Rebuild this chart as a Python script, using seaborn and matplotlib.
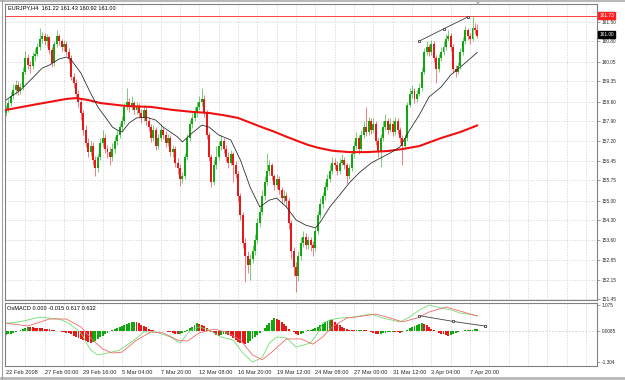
import numpy as np
import matplotlib
matplotlib.use('Agg')
import matplotlib.pyplot as plt
import matplotlib.transforms as mtransforms
import seaborn as sns

# ---------------- data (EURJPY, H4) ----------------
first_open = 158.20

closes = [
    158.35, 158.55, 158.80, 159.05, 159.20, 159.00, 159.15, 159.70,
    160.20, 159.95, 159.90, 160.25, 160.35, 160.60, 160.90, 161.00,
    160.80, 160.95, 160.50, 160.00, 160.70, 161.00, 160.80, 160.60,
    160.70, 160.40, 160.20, 159.50, 159.30, 158.90, 158.60, 158.20,
    157.60, 157.10, 156.80, 157.00, 156.50, 156.20, 156.60, 157.10,
    157.30, 156.90, 156.80, 156.60, 156.90, 157.20, 157.40, 157.70,
    157.90, 158.40, 158.60, 158.40, 158.55, 158.30, 158.45, 158.20,
    158.00, 158.30, 157.90, 157.70, 157.30, 157.60, 157.00, 157.30,
    157.60, 157.40, 157.10, 157.30, 156.80, 156.90, 156.40, 156.20,
    155.80, 155.90, 156.60, 157.30, 157.80, 158.00, 158.20, 158.40,
    158.60, 158.70, 158.20, 157.40, 156.60, 155.70, 156.30, 156.60,
    157.00, 157.20, 156.90, 156.60, 156.40, 156.70, 156.30, 156.00,
    155.20, 154.50, 153.50, 153.00, 152.70, 152.90, 153.20, 153.60,
    154.20, 154.60, 155.20, 155.70, 156.10, 156.30, 155.90, 155.60,
    155.80, 155.40, 155.10, 155.20, 155.00, 154.20, 153.20, 152.60,
    152.30, 153.00, 153.50, 153.70, 153.40, 153.60, 153.40, 153.30,
    153.90, 154.50, 154.90, 155.20, 155.50, 155.80, 156.10, 156.40,
    156.30, 156.10, 156.40, 156.50, 156.30, 155.90, 156.20, 156.70,
    157.00, 157.30, 156.90, 157.40, 157.70, 157.50, 157.90, 157.60,
    157.80, 157.20, 156.80, 157.30, 157.70, 157.90, 157.60, 157.80,
    157.50, 157.90, 157.60, 157.30, 157.00, 157.30, 158.50, 158.90,
    159.00, 158.70, 158.90, 159.10, 159.70, 160.40, 160.60, 160.40,
    160.70, 160.20, 159.80, 160.20, 160.40, 160.60, 160.90, 161.00,
    160.60, 159.80, 159.70, 159.90, 160.40, 160.80, 161.20, 161.00,
    160.90, 161.30, 161.22, 161.00,
]

highs = [
    158.50, 158.70, 158.95, 159.25, 159.40, 159.35, 159.30, 159.85,
    160.45, 160.35, 160.10, 160.40, 160.55, 160.75, 161.30, 161.15,
    161.10, 161.05, 161.00, 160.60, 160.80, 161.20, 161.05, 160.90,
    160.85, 160.80, 160.55, 160.30, 159.65, 159.45, 159.05, 158.75,
    158.30, 157.75, 157.30, 157.20, 157.15, 156.65, 156.75, 157.30,
    157.60, 157.45, 157.05, 156.95, 157.10, 157.35, 157.60, 157.85,
    158.10, 158.55, 159.10, 158.75, 158.80, 158.65, 158.60, 158.55,
    158.35, 158.50, 158.40, 158.05, 157.80, 157.75, 157.70, 157.45,
    157.80, 157.70, 157.55, 157.45, 157.40, 157.05, 157.00, 156.55,
    156.35, 156.05, 156.75, 157.45, 157.95, 158.20, 158.40, 158.60,
    158.80, 159.10, 158.85, 158.30, 157.50, 156.70, 156.50, 157.00,
    157.20, 157.40, 157.30, 157.05, 156.80, 156.85, 156.80, 156.45,
    156.10, 155.30, 154.60, 153.65, 153.20, 153.10, 153.40, 153.80,
    154.40, 154.80, 155.40, 155.90, 156.75, 156.50, 156.40, 156.00,
    156.00, 155.90, 155.50, 155.40, 155.35, 155.10, 154.30, 153.35,
    152.80, 153.20, 153.70, 153.90, 153.85, 153.75, 153.70, 153.55,
    154.05, 154.65, 155.10, 155.35, 155.70, 156.00, 156.30, 156.60,
    156.55, 156.45, 156.55, 156.70, 156.60, 156.40, 156.35, 156.85,
    157.20, 157.50, 157.40, 157.60, 157.90, 158.40, 158.05, 158.00,
    158.00, 157.90, 157.30, 157.45, 157.90, 158.15, 158.00, 158.00,
    157.95, 158.05, 158.00, 157.70, 157.40, 157.45, 158.60, 159.10,
    159.20, 159.10, 159.05, 159.30, 159.85, 160.55, 160.80, 160.70,
    160.85, 160.80, 160.30, 160.35, 160.60, 160.80, 161.05, 161.20,
    161.10, 160.70, 159.95, 160.05, 160.55, 160.95, 161.35, 161.30,
    161.10, 161.73, 161.45, 161.43,
]

lows = [
    158.10, 158.25, 158.45, 158.70, 158.90, 158.85, 158.90, 159.05,
    159.60, 159.80, 159.65, 159.80, 160.10, 160.25, 160.50, 160.75,
    160.65, 160.60, 160.35, 159.85, 159.90, 160.60, 160.65, 160.45,
    160.45, 160.30, 160.00, 159.40, 159.10, 158.75, 158.40, 157.95,
    157.40, 156.95, 156.60, 156.65, 156.30, 155.90, 156.05, 156.50,
    156.95, 156.75, 156.55, 156.30, 156.45, 156.75, 157.05, 157.30,
    157.55, 157.80, 158.30, 158.25, 158.30, 158.15, 158.15, 158.05,
    157.85, 157.90, 157.75, 157.55, 157.15, 157.20, 156.85, 156.90,
    157.20, 157.25, 156.95, 157.00, 156.65, 156.60, 156.25, 156.00,
    155.55, 155.65, 155.80, 156.50, 157.20, 157.65, 157.90, 158.05,
    158.30, 158.45, 158.05, 157.25, 156.45, 155.50, 155.60, 156.15,
    156.50, 156.85, 156.75, 156.45, 156.20, 156.30, 155.70, 155.85,
    155.00, 154.30, 153.30, 152.05, 152.40, 152.15, 152.75, 153.05,
    153.50, 154.05, 154.50, 155.05, 155.60, 155.95, 155.75, 155.40,
    155.45, 155.25, 154.90, 154.95, 154.80, 154.00, 152.90, 152.30,
    151.70, 152.10, 152.85, 153.35, 153.25, 153.25, 153.20, 153.00,
    153.20, 153.80, 154.40, 154.75, 155.05, 155.40, 155.70, 156.00,
    156.15, 155.95, 156.00, 156.30, 156.15, 155.65, 155.80, 156.10,
    156.55, 156.90, 156.70, 156.80, 157.30, 157.35, 157.40, 157.45,
    157.50, 157.05, 156.60, 156.25, 157.20, 157.60, 157.45, 157.50,
    157.35, 157.40, 157.45, 157.10, 156.30, 156.90, 157.20, 158.40,
    158.75, 158.55, 158.60, 158.80, 159.00, 159.60, 160.30, 160.25,
    160.30, 160.05, 159.30, 159.70, 160.10, 160.30, 160.50, 160.80,
    160.45, 159.65, 159.50, 159.60, 159.80, 160.30, 160.70, 160.85,
    160.70, 160.80, 161.05, 160.92,
]

# moving averages (bar index, price)
ma_fast_bar = [0, 6, 11, 15, 18, 22, 25, 27, 31, 35, 38, 42, 44, 46, 48, 51, 54, 58, 62, 65,
               71, 73, 77, 81, 84, 88, 93, 97, 101, 105, 109, 112, 116, 120, 124, 128, 130,
               134, 138, 142, 146, 151, 155, 159, 163, 167, 171, 175, 180, 184, 189, 195]
ma_fast_val = [158.67, 159.03, 159.47, 159.83, 159.94, 160.16, 160.23, 160.12, 159.65, 158.92,
               158.42, 157.94, 157.69, 157.58, 157.51, 157.84, 158.02, 158.05, 157.94, 157.69,
               157.33, 157.15, 157.47, 157.76, 157.69, 157.40, 157.22, 156.49, 155.51, 154.79,
               155.04, 155.11, 154.79, 154.32, 154.13, 154.03, 154.24, 154.79, 155.22, 155.66,
               156.02, 156.38, 156.57, 156.75, 156.97, 157.58, 158.13, 158.78, 159.14, 159.58,
               159.94, 160.40]

ma_slow_bar = [0, 11, 18, 25, 29, 34, 39, 50, 60, 69, 77, 84, 90, 96, 101, 106, 111, 116,
               121, 125, 129, 135, 142, 149, 158, 164, 171, 180, 188, 195]
ma_slow_val = [158.31, 158.49, 158.60, 158.71, 158.74, 158.67, 158.56, 158.45, 158.42, 158.31,
               158.24, 158.20, 158.12, 158.02, 157.85, 157.68, 157.52, 157.34, 157.17, 157.04,
               156.94, 156.83, 156.78, 156.78, 156.82, 156.89, 157.00, 157.29, 157.51, 157.75]

# trend line over the highs
trend_bar = [171, 181, 191]
trend_val = [160.81, 161.25, 161.68]
level_line = 161.73

# OsMACD histogram, one value per bar
osma = [
    -0.16, -0.14, -0.11, -0.07, -0.03, 0.02, 0.06, 0.10,
    0.14, 0.17, 0.16, 0.15, 0.14, 0.13, 0.12, 0.11,
    0.10, 0.09, 0.08, 0.06, 0.04, 0.02, -0.01, -0.03,
    -0.05, -0.07, -0.10, -0.14, -0.19, -0.24, -0.29, -0.34,
    -0.39, -0.43, -0.46, -0.48, -0.45, -0.40, -0.34, -0.27,
    -0.20, -0.13, -0.07, -0.02, 0.03, 0.07, 0.12, 0.17,
    0.22, 0.27, 0.31, 0.35, 0.38, 0.39, 0.36, 0.32,
    0.27, 0.21, 0.15, 0.10, 0.06, 0.03, 0.02, 0.01,
    0.00, -0.01, -0.02, -0.03, -0.06, -0.09, -0.12, -0.14,
    -0.12, -0.08, -0.03, 0.04, 0.11, 0.18, 0.25, 0.33,
    0.30, 0.25, 0.19, 0.12, 0.05, -0.03, -0.10, -0.16,
    -0.19, -0.17, -0.14, -0.13, -0.16, -0.22, -0.30, -0.38,
    -0.45, -0.50, -0.52, -0.53, -0.48, -0.40, -0.32, -0.24,
    -0.15, -0.07, 0.02, 0.12, 0.23, 0.34, 0.46, 0.56,
    0.52, 0.45, 0.37, 0.28, 0.19, 0.10, 0.02, -0.06,
    -0.12, -0.15, -0.12, -0.07, -0.02, 0.03, 0.06, 0.08,
    0.12, 0.17, 0.23, 0.30, 0.36, 0.42, 0.46, 0.44,
    0.38, 0.31, 0.24, 0.17, 0.11, 0.07, 0.05, 0.04,
    0.03, 0.04, 0.05, 0.06, 0.04, 0.03, 0.00, -0.05,
    -0.09, -0.12, -0.13, -0.11, -0.09, -0.07, -0.05, -0.04,
    -0.03, -0.05, -0.06, -0.07, -0.05, -0.01, 0.05, 0.11,
    0.17, 0.22, 0.27, 0.31, 0.33, 0.30, 0.24, 0.17,
    0.10, 0.04, -0.02, -0.07, -0.11, -0.14, -0.17, -0.19,
    -0.16, -0.12, -0.08, -0.05, -0.02, 0.01, 0.03, 0.04,
    0.05, 0.06, 0.07, 0.075,
]

macd_bar = [0, 6, 14, 22, 26, 31, 35, 38, 42, 47, 53, 57, 62, 68, 72, 76, 80, 84, 89, 94, 98,
            102, 106, 109, 112, 116, 120, 126, 129, 131, 134, 138, 144, 151, 156, 163, 167,
            171, 175, 180, 184, 188, 193, 195]
macd_val = [0.32, 0.39, 0.58, 0.50, 0.33, -0.08, -0.79, -1.00, -0.92, -0.80, -0.38, -0.04,
            -0.04, -0.25, -0.50, 0.00, 0.17, 0.04, -0.25, -0.38, -0.92, -1.30, -1.10, -0.50,
            -0.25, -0.29, -0.67, -0.50, -0.08, 0.33, 0.46, 0.54, 0.58, 0.71, 0.54, 0.38, 0.58,
            0.88, 1.08, 0.96, 0.88, 0.75, 0.68, 0.62]
sig_bar = [0, 9, 18, 25, 31, 36, 40, 44, 48, 54, 60, 65, 71, 75, 80, 86, 91, 97, 102, 106,
           110, 116, 122, 127, 131, 135, 141, 148, 153, 159, 164, 170, 175, 182, 188, 193, 195]
sig_val = [0.33, 0.21, 0.50, 0.50, 0.17, -0.38, -0.75, -0.92, -0.88, -0.38, -0.04, -0.08,
           -0.38, -0.42, -0.08, 0.08, -0.04, -0.38, -1.00, -1.20, -0.88, -0.33, -0.33, -0.55,
           -0.25, 0.17, 0.54, 0.63, 0.71, 0.54, 0.38, 0.54, 0.79, 1.00, 0.83, 0.68, 0.63]
macd_trend_bar = [171, 185, 198]
macd_trend_val = [0.64, 0.40, 0.21]

price_ticks = [161.50, 160.80, 160.05, 159.35, 158.60, 157.90, 157.20, 156.45,
               155.75, 155.00, 154.30, 153.60, 152.85, 152.15, 151.45]
macd_ticks = [1.075, 0.0085, -1.304]
macd_tick_labels = ['1.075', '0.0085', '-1.304']
date_pos = [0, 16, 32, 48, 64, 80, 96, 112, 128, 144, 160, 176, 192]
date_labels = ['22 Feb 2008', '27 Feb 00:00', '29 Feb 16:00', '5 Mar 04:00', '7 Mar 20:00',
               '12 Mar 08:00', '16 Mar 20:00', '19 Mar 12:00', '24 Mar 08:00', '27 Mar 00:00',
               '31 Mar 12:00', '3 Apr 04:00', '7 Apr 20:00']

# ---------------- styling ----------------
sns.set_style('white')
plt.rcParams['font.family'] = ['Liberation Sans', 'DejaVu Sans']

green = '#0fa80f'
red = '#e81818'
grid_c = '#d6cccc'
frame_c = '#808080'

c = np.array(closes)
o = np.r_[first_open, c[:-1]]
h = np.maximum(np.array(highs), np.maximum(o, c))
l = np.minimum(np.array(lows), np.minimum(o, c))
idx = np.arange(len(c))
up = c >= o
cols = np.where(up, green, red)

fig = plt.figure(figsize=(6.25, 3.8), dpi=100)
ax = fig.add_axes([5 / 625, 1 - 300 / 380, 592 / 625, 296 / 380])
axm = fig.add_axes([5 / 625, 1 - 366 / 380, 592 / 625, 63 / 380], sharex=ax)

# grid
for gx in range(8, 245, 8):
    ax.axvline(gx, color=grid_c, lw=0.5, ls=(0, (2, 2)), zorder=0)
    axm.axvline(gx, color=grid_c, lw=0.5, ls=(0, (2, 2)), zorder=0)
for p in price_ticks:
    ax.axhline(p, color=grid_c, lw=0.5, ls=(0, (2, 2)), zorder=0)
axm.axhline(0, color=grid_c, lw=0.6, ls=(0, (2, 2)), zorder=0)

# candles
ax.vlines(idx, l, h, colors=cols, lw=0.6, alpha=0.65, zorder=2)
ax.bar(idx, np.maximum(np.abs(c - o), 0.03), bottom=np.minimum(o, c),
       width=0.82, color=cols, linewidth=0, zorder=3)

# moving averages
sns.lineplot(x=ma_slow_bar, y=ma_slow_val, ax=ax, color='#f01010', linewidth=1.5, zorder=4)
sns.lineplot(x=ma_fast_bar, y=ma_fast_val, ax=ax, color='#303030', linewidth=0.6, zorder=4)

# level and trend line
ax.axhline(level_line, color='#ff4040', lw=0.7, zorder=1)
ax.plot(trend_bar, trend_val, color='#404040', lw=0.6, marker='s', ms=2.0,
        mfc='white', mec='#404040', mew=0.6, zorder=5)

ax.set_xlim(-0.4, 244.5)
ax.set_ylim(151.414, 162.154)
ax.yaxis.tick_right()
ax.set_yticks(price_ticks)
ax.set_yticklabels(['%.2f' % p for p in price_ticks])
ax.tick_params(axis='y', length=2, width=0.5, color=frame_c, pad=1.2, labelsize=3.4)
ax.tick_params(axis='x', length=0, labelbottom=False)
ax.set_xlabel('')
ax.set_ylabel('')

blend = mtransforms.blended_transform_factory(ax.transAxes, ax.transData)
ax.text(1.004, level_line, '161.73', transform=blend, va='center', ha='left',
        fontsize=3.4, color='white', zorder=10,
        bbox=dict(boxstyle='square,pad=0.25', fc='#ff2020', ec='#ff2020'))
ax.text(1.004, 161.04, '161.00', transform=blend, va='center', ha='left',
        fontsize=3.4, color='white', zorder=10,
        bbox=dict(boxstyle='square,pad=0.25', fc='black', ec='black'))
ax.text(0.005, 0.996, 'EURJPY,H4  161.22 161.43 160.92 161.00', transform=ax.transAxes,
        va='top', ha='left', fontsize=4.1, color='black')

# OsMACD panel
hcols = [green] + [green if osma[i] > osma[i - 1] else red for i in range(1, len(osma))]
axm.bar(idx, osma, width=0.8, color=hcols, linewidth=0, zorder=2)
sns.lineplot(x=macd_bar, y=macd_val, ax=axm, color='#70dc70', linewidth=0.6, zorder=3)
sns.lineplot(x=sig_bar, y=sig_val, ax=axm, color='#f06868', linewidth=0.6, zorder=3)
axm.plot(macd_trend_bar, macd_trend_val, color='#404040', lw=0.6, marker='s', ms=2.0,
         mfc='white', mec='#404040', mew=0.6, zorder=5)
axm.set_ylim(-1.461, 1.169)
axm.yaxis.tick_right()
axm.set_yticks(macd_ticks)
axm.set_yticklabels(macd_tick_labels)
axm.tick_params(axis='y', length=2, width=0.5, color=frame_c, pad=1.2, labelsize=3.4)
axm.set_xticks(date_pos)
axm.set_xticklabels(date_labels)
axm.tick_params(axis='x', length=2, width=0.5, color=frame_c, pad=0.8, labelsize=4.1)
for lbl in axm.get_xticklabels():
    lbl.set_ha('left')
axm.set_xlabel('')
axm.set_ylabel('')
axm.text(0.003, 0.95, 'OsMACD 0.000 -0.015 0.617 0.632', transform=axm.transAxes,
         va='top', ha='left', fontsize=4.1, color='black')

for a in (ax, axm):
    for s in a.spines.values():
        s.set_color(frame_c)
        s.set_linewidth(0.8)
    a.set_facecolor('white')

# window frame and chart-shift marker
fig.add_artist(plt.Line2D([0, 1], [1 - 1 / 380] * 2, transform=fig.transFigure,
                          color='#b8b8b8', lw=1.5))
fig.add_artist(plt.Line2D([0, 1], [2 / 380] * 2, transform=fig.transFigure,
                          color='#b8b8b8', lw=2.0))
fig.add_artist(plt.Line2D([2 / 625] * 2, [0, 1], transform=fig.transFigure,
                          color='#a0a0a0', lw=0.8))
fig.text(478 / 625, 1 - 3 / 380, '\u25bc', color='#b0b0b0', fontsize=3.5,
         ha='center', va='center', family='DejaVu Sans')

fig.savefig('out.png', dpi=100, facecolor='white')
